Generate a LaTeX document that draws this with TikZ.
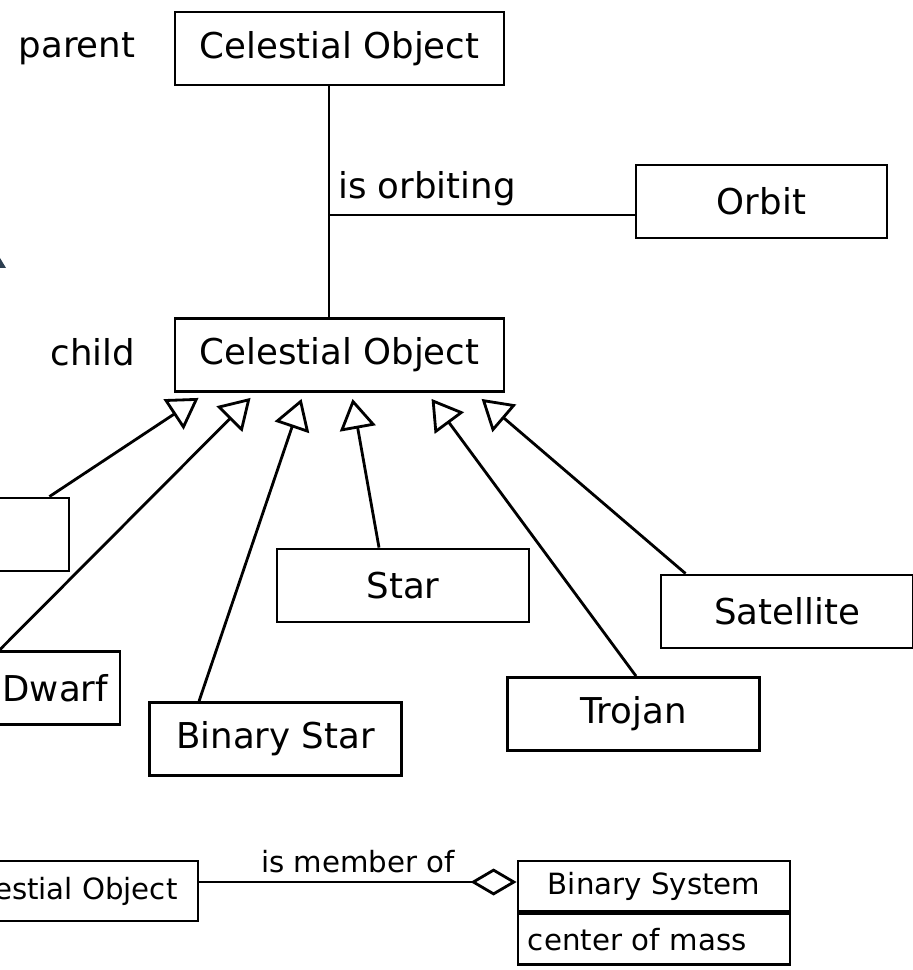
\documentclass[tikz,border=0pt]{standalone}
\usepackage{fontspec}
\setmainfont{DejaVu Sans}
\usepackage{tikz}
\usetikzlibrary{positioning,calc,arrows.meta}
\newcommand{\bigtxt}{\fontsize{25.3pt}{30pt}\selectfont}
\newcommand{\smalltxt}{\fontsize{20.8pt}{25pt}\selectfont}
\definecolor{fragc}{HTML}{2C3E50}

\begin{document}
\begin{tikzpicture}[
    x=0.025cm, y=-0.025cm,
    cls/.style={draw,line width=2pt,minimum width=6.3cm,minimum height=1.825cm,font=\bigtxt},
    lbl/.style={inner sep=0pt,font=\bigtxt},
    assoc/.style={line width=2pt},
    inh/.style={line width=2pt,-{Triangle[length=0.75cm,width=0.9cm,fill=white]}},
    aggr/.style={line width=2pt,-{Diamond[length=1.15cm,width=0.675cm,fill=white]}}
    ]
    \useasboundingbox (0,0) rectangle (912,970);
    \fill[fragc] (0,258) -- (6,268) -- (0,268) -- cycle;
    \node[cls,minimum width=8.225cm] (parent) at (339.5,48.5) {Celestial Object};
    \node[cls,minimum width=8.225cm] (child) at (339.5,355) {Celestial Object};
    \node[cls,minimum width=6.275cm] (orbit) at (761.5,201.5) {Orbit};
    \node[lbl,left=0.95cm of parent] (parentlbl) {parent};
    \node[lbl,left=0.95cm of child,yshift=2pt] (childlbl) {child};
    \node[cls] (leftbox) at (-57,534.5) {};
    \node[cls,text width=5.7cm,align=right,inner xsep=0.3cm] (dwarf) at (-6,688) {Dwarf};
    \node[cls] (binstar) at (275.5,739) {Binary Star};
    \node[cls] (star) at (403,585.5) {Star};
    \node[cls] (trojan) at (633.5,714) {Trojan};
    \node[cls] (satellite) at (787,611.5) {Satellite};
    \draw[assoc] ($(parent.south)+(-10.5,0)$) coordinate (ptop) -- (ptop |- child.north);
    \draw[assoc] ($(orbit.west)+(0,13.5)$) coordinate (oend) -- (oend -| ptop);
    \node[lbl,anchor=base west] (orbiting) at (338,199) {is orbiting};
    \draw[inh] ($(leftbox.north east)+(-21,0)$) -- ($(child.south west)+(25,5)$);
    \draw[inh] ($(dwarf.north east)+(-122,0)$) -- ($(child.south west)+(77,5)$);
    \draw[inh] ($(binstar.north west)+(51,0)$) -- ($(child.south west)+(128,6)$);
    \draw[inh] ($(star.north)+(-24,0)$) -- ($(child.south west)+(179,6)$);
    \draw[inh] ($(trojan.north)+(2.5,0)$) -- ($(child.south west)+(258,6)$);
    \draw[inh] ($(satellite.north west)+(26,0)$) -- ($(child.south west)+(308,6)$);
    \node[cls,minimum width=6.775cm,minimum height=1.5cm,font=\smalltxt] (member) at (62.5,891) {Celestial Object};
    \node[cls,minimum width=6.8cm,minimum height=1.25cm,font=\smalltxt] (bsys) at (654,886) {Binary System};
    \node[cls,anchor=north,minimum width=6.8cm,minimum height=1.275cm,font=\smalltxt,
          text width=6.3cm,align=left,inner xsep=0.25cm] (bmass) at (bsys.south) {center of mass};
    \draw[aggr] ($(member.east)+(0,-9)$) -- ($(bsys.west)+(0,-4)$)
        node[pos=0.5,anchor=base,yshift=7pt,font=\smalltxt,inner sep=0pt] (memberlbl) {is member of};
\end{tikzpicture}
\end{document}
